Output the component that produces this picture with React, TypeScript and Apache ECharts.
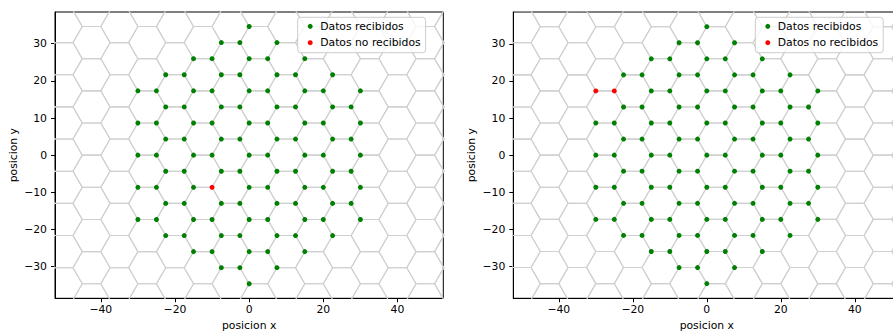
import React, { useEffect, useRef } from "react";
import * as echarts from "echarts";

// Rows of the hexagon vertex lattice that carry a sensor point (y of each row, x of each point)
const filasY = [34.64, 30.31, 25.98, 21.65, 17.32, 12.99, 8.66, 4.33, 0, -4.33, -8.66, -12.99, -17.32, -21.65, -25.98, -30.31, -34.64];
const filasX = [
  [0],
  [-7.5, -2.5, 7.5],
  [-15, -10, 0, 5, 15],
  [-22.5, -17.5, -7.5, -2.5, 7.5, 12.5, 22.5],
  [-30, -25, -15, -10, 0, 5, 15, 20, 30],
  [-22.5, -17.5, -7.5, -2.5, 7.5, 12.5, 22.5, 27.5],
  [-30, -25, -15, -10, 0, 5, 15, 20, 30],
  [-22.5, -17.5, -7.5, -2.5, 7.5, 12.5, 22.5, 27.5],
  [-30, -25, -15, -10, 0, 5, 15, 20, 30],
  [-22.5, -17.5, -7.5, -2.5, 7.5, 12.5, 22.5, 27.5],
  [-30, -25, -15, -10, 0, 5, 15, 20, 30],
  [-22.5, -17.5, -7.5, -2.5, 7.5, 12.5, 22.5, 27.5],
  [-30, -25, -15, -10, 0, 5, 15, 20, 30],
  [-22.5, -17.5, -7.5, -2.5, 7.5, 12.5, 22.5],
  [-15, -10, 0, 5, 15],
  [-7.5, -2.5, 7.5],
  [0],
];

// Points whose data was not received
const noRecibidosIzq: number[][] = [[-10, -8.66]];
const noRecibidosDer: number[][] = [[-30, 17.32], [-25, 17.32]];

const ticksX = [-40, -20, 0, 20, 40];
const ticksY = [-30, -20, -10, 0, 10, 20, 30];

const nombreRecibidos = "Datos recibidos";
const nombreNoRecibidos = "Datos no recibidos";

const FONT = "DejaVu Sans";

function todosLosPuntos(): number[][] {
  const out: number[][] = [];
  filasY.forEach((y, i) => filasX[i].forEach((x) => out.push([x, y])));
  return out;
}

function recibidos(faltan: number[][]): number[][] {
  return todosLosPuntos().filter(
    (p) => !faltan.some((q) => q[0] === p[0] && q[1] === p[1])
  );
}

// background hexagon mesh (flat-top hexagons, side 5)
function hexMesh() {
  const S = 5;
  const H = (S * Math.sqrt(3)) / 2;
  const out: { coords: number[][] }[] = [];
  for (let i = -6; i <= 6; i++) {
    for (let j = -6; j <= 6; j++) {
      const centers = [
        [2.5 + 15 * i, H + 2 * H * j],
        [10 + 15 * i, 2 * H * j],
      ];
      for (const [cx, cy] of centers) {
        if (Math.abs(cx) > 62 || Math.abs(cy) > 46) continue;
        out.push({
          coords: [
            [cx + S, cy],
            [cx + S / 2, cy + H],
            [cx - S / 2, cy + H],
            [cx - S, cy],
            [cx - S / 2, cy - H],
            [cx + S / 2, cy - H],
            [cx + S, cy],
          ],
        });
      }
    }
  }
  return out;
}

const fmt = (v: number) => (v < 0 ? "\u2212" + Math.abs(v) : String(v));

function xAxisFor(k: number, lim: number) {
  return {
    type: "value",
    gridIndex: k,
    min: -lim,
    max: lim,
    name: "posicion x",
    nameLocation: "middle",
    nameGap: 20.5,
    nameTextStyle: { fontFamily: FONT, fontSize: 10.8, color: "#000" },
    axisLine: { show: true, onZero: false, lineStyle: { color: "#000", width: 1 } },
    axisTick: { show: true, inside: false, length: 4, customValues: ticksX, lineStyle: { color: "#000", width: 1 } },
    axisLabel: { customValues: ticksX, formatter: fmt, margin: 6, fontFamily: FONT, fontSize: 10.8, color: "#000" },
    splitLine: { show: false },
  };
}

function yAxisFor(k: number, lim: number) {
  return {
    type: "value",
    gridIndex: k,
    min: -lim,
    max: lim,
    name: "posicion y",
    nameLocation: "middle",
    nameGap: 36,
    nameTextStyle: { fontFamily: FONT, fontSize: 10.8, color: "#000" },
    axisLine: { show: true, onZero: false, lineStyle: { color: "#000", width: 1 } },
    axisTick: { show: true, inside: false, length: 4, customValues: ticksY, lineStyle: { color: "#000", width: 1 } },
    axisLabel: { customValues: ticksY, formatter: fmt, margin: 8, fontFamily: FONT, fontSize: 10.8, color: "#000" },
    splitLine: { show: false },
  };
}

function legendFor(left: number) {
  return {
    show: true,
    orient: "vertical",
    left,
    top: 17.3,
    padding: [0.8, 5, 1.8, 10],
    itemWidth: 10,
    itemHeight: 5,
    itemGap: 0,
    itemTextGap: 14.6,
    icon: "circle",
    selectedMode: false,
    backgroundColor: "rgba(255,255,255,0.8)",
    borderColor: "#cccccc",
    borderWidth: 1,
    borderRadius: 3,
    textStyle: { fontFamily: FONT, fontSize: 10.8, color: "#000", lineHeight: 16.4 },
    itemStyle: { borderWidth: 0 },
    data: [nombreRecibidos, nombreNoRecibidos],
  };
}

function seriesFor(k: number, faltan: number[][]) {
  return [
    {
      type: "lines",
      coordinateSystem: "cartesian2d",
      xAxisIndex: k,
      yAxisIndex: k,
      polyline: true,
      clip: true,
      silent: true,
      z: 1,
      lineStyle: { color: "#d0d0d0", width: 1.1, opacity: 1 },
      data: hexMesh(),
    },
    {
      type: "scatter",
      name: nombreRecibidos,
      xAxisIndex: k,
      yAxisIndex: k,
      symbol: "circle",
      symbolSize: 5,
      z: 3,
      itemStyle: { color: "#008000", opacity: 1 },
      data: recibidos(faltan),
    },
    {
      type: "scatter",
      name: nombreNoRecibidos,
      xAxisIndex: k,
      yAxisIndex: k,
      symbol: "circle",
      symbolSize: 5,
      z: 3,
      itemStyle: { color: "#ff0000", opacity: 1 },
      data: faltan,
    },
  ];
}

const option: any = {
  animation: false,
  backgroundColor: "#ffffff",
  textStyle: { fontFamily: FONT },
  grid: [
    { left: 55, top: 12, width: 388.3, height: 286.3, show: true, borderColor: "#000", borderWidth: 1, backgroundColor: "transparent", containLabel: false, outerBoundsMode: "none" },
    { left: 513.3, top: 12, width: 387, height: 286.3, show: true, borderColor: "#000", borderWidth: 1, backgroundColor: "transparent", containLabel: false, outerBoundsMode: "none" },
  ],
  xAxis: [xAxisFor(0, 52.35), xAxisFor(1, 52.3)],
  yAxis: [yAxisFor(0, 38.55), yAxisFor(1, 38.6)],
  legend: [legendFor(297.7), legendFor(755.3)],
  series: [...seriesFor(0, noRecibidosIzq), ...seriesFor(1, noRecibidosDer)],
};

export default function App() {
  const ref = useRef<HTMLDivElement>(null);
  useEffect(() => {
    if (!ref.current) return;
    const chart = echarts.init(ref.current, null, { renderer: "svg" });
    chart.setOption(option);
    return () => chart.dispose();
  }, []);
  return (
    <div
      ref={ref}
      style={{ position: "fixed", left: 0, top: 0, width: 893, height: 331, background: "#fff" }}
    />
  );
}
